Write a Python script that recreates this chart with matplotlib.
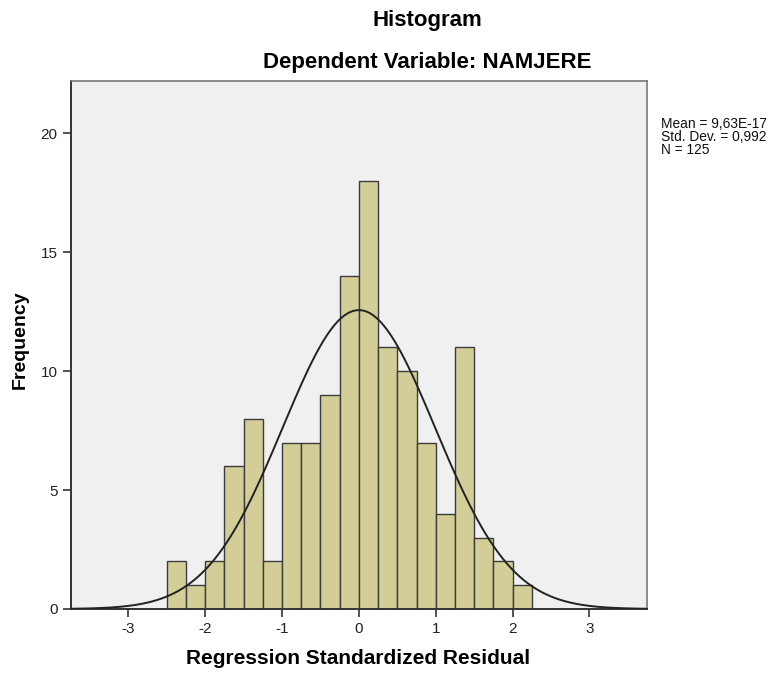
import numpy as np
import matplotlib
matplotlib.use('Agg')
from matplotlib import pyplot as plt

# histogram data
bin_left = [-2.5, -2.25, -2.0, -1.75, -1.5, -1.25, -1.0, -0.75, -0.5, -0.25,
            0.0, 0.25, 0.5, 0.75, 1.0, 1.25, 1.5, 1.75, 2.0]
counts = [2, 1, 2, 6, 8, 2, 7, 7, 9, 14, 18, 11, 10, 7, 4, 11, 3, 2, 1]
bin_width = 0.25
mean = 9.63e-17
std = 0.992
n_total = 125
stats_lines = ['Mean = 9,63E-17', 'Std. Dev. = 0,992', 'N = 125']

plt.rcParams['font.family'] = ['Liberation Sans', 'DejaVu Sans']
plt.rcParams['axes.unicode_minus'] = False

fig = plt.figure(figsize=(7.75, 6.75), dpi=100)
ax = fig.add_axes([0.0912, 0.0978, 0.7438, 0.7822])
ax.set_facecolor('#f0f0f0')

ax.bar(bin_left, counts, width=bin_width, align='edge', color='#d3ce97',
       edgecolor='#3c3c3c', linewidth=1.0, zorder=2)

# normal curve scaled to the histogram
xs = np.linspace(-3.75, 3.75, 400)
pdf = np.exp(-0.5 * ((xs - mean) / std) ** 2) / (std * np.sqrt(2 * np.pi))
ax.plot(xs, n_total * bin_width * pdf, color='#222222', linewidth=1.4, zorder=3)

ax.set_xlim(-3.75, 3.75)
ax.set_ylim(0, 22.2)
ax.set_xticks([-3, -2, -1, 0, 1, 2, 3])
ax.set_yticks([0, 5, 10, 15, 20])
ax.tick_params(axis='both', length=6, width=1.2, color='#333333',
               labelsize=11, labelcolor='#222222')

for side in ['left', 'bottom']:
    ax.spines[side].set_color('#333333')
    ax.spines[side].set_linewidth(1.4)
for side in ['top', 'right']:
    ax.spines[side].set_color('#777777')
    ax.spines[side].set_linewidth(1.2)

fig.text(358 / 775, 1 - 658 / 675, 'Regression Standardized Residual',
         ha='center', va='center', fontsize=15, fontweight='bold')
fig.text(20 / 775, 1 - 340 / 675, 'Frequency', ha='center', va='center',
         rotation=90, fontsize=14, fontweight='bold')

fig.text(0.551, 0.97, 'Histogram', ha='center', va='center', fontsize=16,
         fontweight='bold')
fig.text(0.551, 0.907, 'Dependent Variable: NAMJERE', ha='center', va='center',
         fontsize=16, fontweight='bold')

fig.text(0.853, 0.8267, '\n'.join(stats_lines), ha='left', va='top', fontsize=9.9,
         linespacing=0.93, color='#111111')

plt.savefig('out.png')
plt.close()
